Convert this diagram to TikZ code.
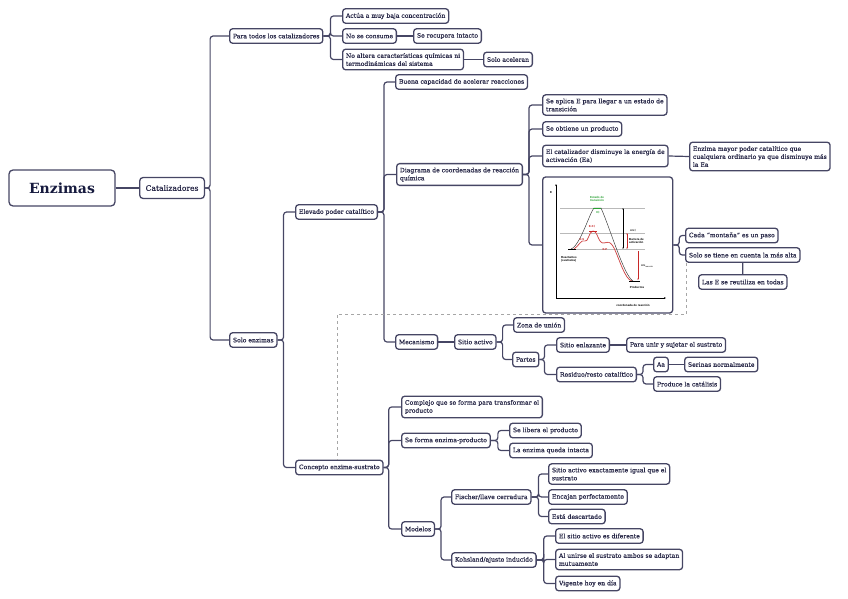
\documentclass[tikz,border=0pt]{standalone}
\usepackage{fontspec}
\setmainfont{DejaVu Serif}[UprightFeatures={FakeBold=0.35}]
\newfontfamily\figfont{Liberation Sans}
\usetikzlibrary{arrows.meta}
\definecolor{mmline}{RGB}{70,70,100}
\definecolor{mmtext}{RGB}{40,40,72}
\definecolor{mmroot}{RGB}{22,26,62}
\definecolor{figgreen}{RGB}{40,160,50}
\definecolor{figred}{RGB}{200,40,40}

\begin{document}
\begin{tikzpicture}[
  x=1pt,y=-1pt,
  every node/.style={text=mmtext,align=left},
  root/.style={draw=mmline,line width=1.3pt,rounded corners=4pt,fill=white,minimum width=106,minimum height=36,font=\fontsize{14}{16}\selectfont\bfseries,text=mmroot},
  maintopic/.style={draw=mmline,line width=1.3pt,rounded corners=3.5pt,fill=white,minimum height=21,inner xsep=6pt,font=\fontsize{7.6}{9}\selectfont},
  topic/.style={draw=mmline,line width=1.3pt,rounded corners=3pt,fill=white,minimum height=14.5,inner xsep=3.3pt,inner ysep=3.8pt,anchor=west,font=\fontsize{6.1}{8}\selectfont},
  figlbl/.style={font=\figfont\fontsize{2.9}{3.3}\selectfont,inner sep=0pt,text=black},
  link/.style={draw=mmline,line width=1.2pt,rounded corners=3pt},
  dashlink/.style={draw=gray!70,line width=0.6pt,dashed}
]
\useasboundingbox (0,0) rectangle (848,599);
% root and first level
\node[root] (enzimas) at (62,188) {Enzimas};
\node[maintopic,anchor=west] (catal) at (139,188) {Catalizadores};
\node[topic] (para) at (229,36) {Para todos los catalizadores};
\node[topic] (soloenz) at (229,340) {Solo enzimas};
% para todos los catalizadores
\node[topic] (actua) at (342,16) {Actúa a muy baja concentración};
\node[topic] (nocons) at (342,36) {No se consume};
\node[topic] (recup) at (413,36) {Se recupera intacto};
\node[topic] (noaltera) at (342,59.5) {No altera características químicas ni\\termodinámicas del sistema};
\node[topic] (soloacel) at (483,59.5) {Solo aceleran};
% solo enzimas
\node[topic] (elevado) at (295,212) {Elevado poder catalítico};
\node[topic] (concepto) at (295,467.5) {Concepto enzima-sustrato};
\node[topic] (buena) at (395,82) {Buena capacidad de acelerar reacciones};
\node[topic] (diagrama) at (396,174.5) {Diagrama de coordenadas de reacción\\química};
\node[topic] (mecanismo) at (395,342) {Mecanismo};
% diagrama de coordenadas
\node[topic] (seaplica) at (542,105) {Se aplica E para llegar a un estado de\\transición};
\node[topic] (obtiene) at (542,129) {Se obtiene un producto};
\node[topic] (catdism) at (542,156) {El catalizador disminuye la energía de\\activación (Ea)};
\node[topic] (enzmayor) at (689,156.5) {Enzima mayor poder catalítico que\\cualquiera ordinario ya que disminuye más\\la Ea};
\node[topic,minimum width=130,minimum height=136] (figbox) at (542,245) {};
\node[topic] (cada) at (685,235.5) {Cada “montaña” es un paso};
\node[topic] (solotiene) at (685,255) {Solo se tiene en cuenta la más alta};
\node[topic] (lasE) at (698,282) {Las E se reutiliza en todas};
% mecanismo
\node[topic] (sitio) at (454,342) {Sitio activo};
\node[topic] (zona) at (513,325) {Zona de unión};
\node[topic] (partes) at (512,359.5) {Partes};
\node[topic] (enlazante) at (556,345) {Sitio enlazante};
\node[topic] (paraunir) at (626,345) {Para unir y sujetar el sustrato};
\node[topic] (residuo) at (556,374.5) {Residuo/resto catalítico};
\node[topic] (aa) at (653,364.5) {Aa};
\node[topic] (serinas) at (684,364.5) {Serinas normalmente};
\node[topic] (produce) at (653,384) {Produce la catálisis};
% concepto enzima-sustrato
\node[topic] (complejo) at (401,407) {Complejo que se forma para transformar el\\producto};
\node[topic] (seforma) at (401,440.5) {Se forma enzima-producto};
\node[topic] (libera) at (509,430.5) {Se libera el producto};
\node[topic] (intacta) at (509,450.5) {La enzima queda intacta};
\node[topic] (modelos) at (401,529) {Modelos};
\node[topic] (fischer) at (451,497) {Fischer/llave cerradura};
\node[topic] (kohsland) at (451,560) {Kohsland/ajuste inducido};
\node[topic] (exacto) at (548,474) {Sitio activo exactamente igual que el\\sustrato};
\node[topic] (encajan) at (548,497) {Encajan perfectamente};
\node[topic] (descart) at (548,516.5) {Está descartado};
\node[topic] (difer) at (555,536) {El sitio activo es diferente};
\node[topic] (alunir) at (555,559.5) {Al unirse el sustrato ambos se adaptan\\mutuamente};
\node[topic] (vigente) at (555,583.5) {Vigente hoy en día};
% connectors
\draw[link] (enzimas.east) -- (catal.west);
\draw[link] (catal.east) -- ++(5,0) |- (para.west);
\draw[link] (catal.east) -- ++(5,0) |- (soloenz.west);
\draw[link] (para.east) -- ++(7,0) |- (actua.west);
\draw[link] (para.east) -- ++(7,0) |- (nocons.west);
\draw[link] (para.east) -- ++(7,0) |- (noaltera.west);
\draw[link] (nocons.east) -- (recup.west);
\draw[link] (noaltera.east) -- (soloacel.west);
\draw[link] (soloenz.east) -- ++(6,0) |- (elevado.west);
\draw[link] (soloenz.east) -- ++(6,0) |- (concepto.west);
\draw[link] (elevado.east) -- ++(6,0) |- (buena.west);
\draw[link] (elevado.east) -- ++(6,0) |- (diagrama.west);
\draw[link] (elevado.east) -- ++(6,0) |- (mecanismo.west);
\draw[link] (diagrama.east) -- ++(6,0) |- (seaplica.west);
\draw[link] (diagrama.east) -- ++(6,0) |- (obtiene.west);
\draw[link] (diagrama.east) -- ++(6,0) |- (catdism.west);
\draw[link] (diagrama.east) -- ++(6,0) |- (figbox.west);
\draw[link] (catdism.east) -- (enzmayor.west);
\draw[link] (figbox.east) -- ++(6,0) |- (cada.west);
\draw[link] (figbox.east) -- ++(6,0) |- (solotiene.west);
\draw[link] (solotiene.south) -- (lasE.north);
\draw[link] (mecanismo.east) -- (sitio.west);
\draw[link] (sitio.east) -- ++(6,0) |- (zona.west);
\draw[link] (sitio.east) -- ++(6,0) |- (partes.west);
\draw[link] (partes.east) -- ++(5,0) |- (enlazante.west);
\draw[link] (partes.east) -- ++(5,0) |- (residuo.west);
\draw[link] (enlazante.east) -- (paraunir.west);
\draw[link] (residuo.east) -- ++(6,0) |- (aa.west);
\draw[link] (residuo.east) -- ++(6,0) |- (produce.west);
\draw[link] (aa.east) -- (serinas.west);
\draw[link] (concepto.east) -- ++(5,0) |- (complejo.west);
\draw[link] (concepto.east) -- ++(5,0) |- (seforma.west);
\draw[link] (concepto.east) -- ++(5,0) |- (modelos.west);
\draw[link] (seforma.east) -- ++(7,0) |- (libera.west);
\draw[link] (seforma.east) -- ++(7,0) |- (intacta.west);
\draw[link] (modelos.east) -- ++(6,0) |- (fischer.west);
\draw[link] (modelos.east) -- ++(6,0) |- (kohsland.west);
\draw[link] (fischer.east) -- ++(7,0) |- (exacto.west);
\draw[link] (fischer.east) -- ++(7,0) |- (encajan.west);
\draw[link] (fischer.east) -- ++(7,0) |- (descart.west);
\draw[link] (kohsland.east) -- ++(7,0) |- (difer.west);
\draw[link] (kohsland.east) -- ++(7,0) |- (alunir.west);
\draw[link] (kohsland.east) -- ++(7,0) |- (vigente.west);
\coordinate (dashturn) at (337,314);
\draw[dashlink] ([xshift=1.5pt]solotiene.south west) |- (dashturn) -- (dashturn |- concepto.north);
% energy diagram inside figbox
\draw[gray!55,line width=0.3pt] (560,208) -- (645,208) (560,233) -- (645,233) (570,249) -- (645,249);
\draw[-{Stealth[length=2pt,width=1.6pt]},line width=0.35pt,black] (556,298) -- (556,184);
\draw[-{Stealth[length=2pt,width=1.6pt]},line width=0.35pt,black] (556,298) -- (666,298);
\draw[figred!35,line width=0.9pt] (574,249) .. controls (579,246) and (581,239) .. (585,241) .. controls (588,243) and (589,231) .. (593,231) .. controls (598,231) and (598,244) .. (604,243) .. controls (609,242) and (610,241) .. (614,248) .. controls (619,258) and (625,280) .. (632,281);
\draw[figred,line width=0.4pt] (574,249) .. controls (579,246) and (581,239) .. (585,241) .. controls (588,243) and (589,231) .. (593,231) .. controls (598,231) and (598,244) .. (604,243) .. controls (609,242) and (610,241) .. (614,248) .. controls (619,258) and (625,280) .. (632,281);
\draw[black!80,line width=0.45pt] (571,249) .. controls (580,246) and (590,212) .. (594,208) -- (601,208) .. controls (610,228) and (624,276) .. (633,281);
\draw[black,line width=1pt] (568,249) -- (576,249) (629,281) -- (640,281);
\draw[figgreen,line width=1pt] (593,208) -- (601,208);
\draw[figred,line width=1pt] (589,231.5) -- (597,231.5);
\draw[{Stealth[length=1.5pt,width=1.3pt]}-{Stealth[length=1.5pt,width=1.3pt]},line width=0.3pt,black] (623,208) -- (623,249);
\draw[{Stealth[length=1.5pt,width=1.3pt]}-{Stealth[length=1.5pt,width=1.3pt]},line width=0.4pt,figred] (627,233) -- (627,249);
\draw[-{Stealth[length=1.5pt,width=1.3pt]},line width=0.5pt,figred] (638,251) -- (638,280);
\node[figlbl] (lblE) at (551,193) {\bfseries E};
\node[figlbl,text=figgreen,align=center] (lbltrans) at (597,199) {\bfseries Estado de\\\bfseries transición};
\node[figlbl,text=figgreen] (lblX) at (598,213) {\bfseries X‡};
\node[figlbl,text=figred] (lblEX) at (592,226.5) {\bfseries E-X‡};
\node[figlbl,text=figred] (lblES) at (582,240) {\bfseries E-S};
\node[figlbl,text=figred] (lblEP) at (605,250) {\bfseries E-P};
\node[figlbl,anchor=west] (lblreact) at (561,259) {\bfseries Reactantes\\\bfseries (sustratos)};
\node[figlbl] (lblprod) at (637,287) {\bfseries Productos};
\node[figlbl] (lbldg) at (633,231) {Δ\textit{G}‡};
\node[figlbl,anchor=west] (lblbarr) at (629,241) {\bfseries Barrera de\\\bfseries activación};
\node[figlbl,anchor=west] (lbldgr) at (641,266) {Δ\textit{G}\textsubscript{reacción}};
\node[figlbl] (lblcoord) at (633,305) {\bfseries coordenada de reacción};
\end{tikzpicture}
\end{document}
